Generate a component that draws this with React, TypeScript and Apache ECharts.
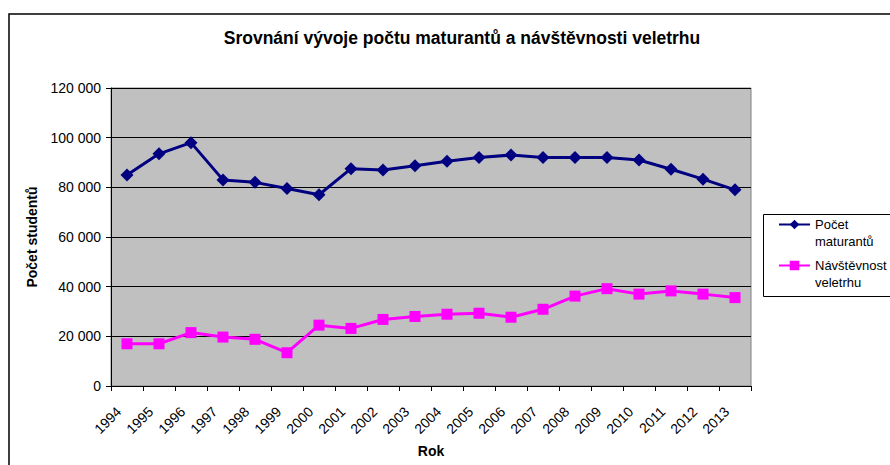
import React, { useEffect, useRef } from "react";
import * as echarts from "echarts";

const years = ["1994","1995","1996","1997","1998","1999","2000","2001","2002","2003","2004","2005","2006","2007","2008","2009","2010","2011","2012","2013"];
const maturanti = [85000, 93500, 98000, 83000, 82000, 79500, 77000, 87500, 87000, 88700, 90500, 92000, 93000, 92000, 92000, 92000, 91000, 87300, 83300, 79000];
const navstevnost = [17000, 17000, 21500, 19700, 18800, 13400, 24500, 23200, 26800, 28000, 28900, 29300, 27700, 30900, 36200, 39200, 37000, 38300, 37000, 35600];
const seriesNames = ["Počet\nmaturantů", "Návštěvnost\nveletrhu"];

const FONT = "'Liberation Sans', Arial, sans-serif";

export default function App() {
  const ref = useRef<HTMLDivElement>(null);
  useEffect(() => {
    document.body.style.margin = "0";
    const chart = echarts.init(ref.current!, null, { renderer: "svg" });
    chart.setOption({
      animation: false,
      backgroundColor: "#ffffff",
      textStyle: { fontFamily: FONT },
      title: {
        text: "Srovnání vývoje počtu maturantů a návštěvnosti veletrhu",
        left: 457,
        textAlign: "center",
        top: 24,
        textStyle: { fontFamily: FONT, fontSize: 17.5, fontWeight: "bold", color: "#000" },
      },
      graphic: [
        {
          type: "rect",
          shape: { x: 9, y: 14, width: 900, height: 470 },
          style: { fill: "none", stroke: "#000", lineWidth: 1.5 },
          silent: true,
        },
        {
          type: "rect",
          shape: { x: 763.5, y: 214.5, width: 200, height: 82 },
          style: { fill: "#fff", stroke: "#000", lineWidth: 1 },
          silent: true,
          z: -1,
        },
      ],
      legend: {
        orient: "vertical",
        left: 778,
        top: 199,
        itemWidth: 31,
        itemHeight: 12,
        itemGap: -10,
        padding: 0,
        data: seriesNames,
        formatter: (name: string) => "\u00A0\n" + name,
        textStyle: { fontFamily: FONT, fontSize: 13, lineHeight: 17, color: "#000" },
      },
      grid: {
        left: 111,
        right: 139,
        top: 88,
        bottom: 79,
        outerBoundsMode: "none",
        show: true,
        backgroundColor: "#c0c0c0",
        borderColor: "#808080",
        borderWidth: 1,
      },
      xAxis: {
        type: "category",
        data: years,
        boundaryGap: true,
        name: "Rok",
        nameLocation: "middle",
        nameGap: 58,
        nameTextStyle: { fontFamily: FONT, fontSize: 14, fontWeight: "bold", color: "#000" },
        axisLine: { show: true, lineStyle: { color: "#000", width: 1 } },
        axisTick: { show: true, interval: 0, length: 5, lineStyle: { color: "#000" } },
        axisLabel: {
          interval: 0,
          rotate: 45,
          margin: 15,
          fontFamily: FONT,
          fontSize: 14,
          color: "#000",
          formatter: (v: string) => v + "\u00A0\u00A0\u00A0",
        },
        splitLine: { show: false },
      },
      yAxis: {
        type: "value",
        min: 0,
        max: 120000,
        interval: 20000,
        name: "Počet studentů",
        nameLocation: "middle",
        nameGap: 67,
        nameTextStyle: { fontFamily: FONT, fontSize: 14, fontWeight: "bold", color: "#000" },
        axisLine: { show: true, lineStyle: { color: "#000", width: 1 } },
        axisTick: { show: true, length: 5, lineStyle: { color: "#000" } },
        axisLabel: {
          margin: 10,
          fontFamily: FONT,
          fontSize: 14,
          color: "#000",
          formatter: (v: number) => String(v).replace(/\B(?=(\d{3})+(?!\d))/g, " "),
        },
        splitLine: { show: true, lineStyle: { color: "#000", width: 1 } },
      },
      series: [
        {
          name: seriesNames[0],
          type: "line",
          data: maturanti,
          symbol: "diamond",
          symbolSize: 13,
          lineStyle: { color: "#000080", width: 3 },
          itemStyle: { color: "#000080" },
        },
        {
          name: seriesNames[1],
          type: "line",
          data: navstevnost,
          symbol: "rect",
          symbolSize: 11,
          lineStyle: { color: "#ff00ff", width: 3 },
          itemStyle: { color: "#ff00ff" },
        },
      ],
    });
    return () => chart.dispose();
  }, []);
  return <div ref={ref} style={{ width: 890, height: 465 }} />;
}
